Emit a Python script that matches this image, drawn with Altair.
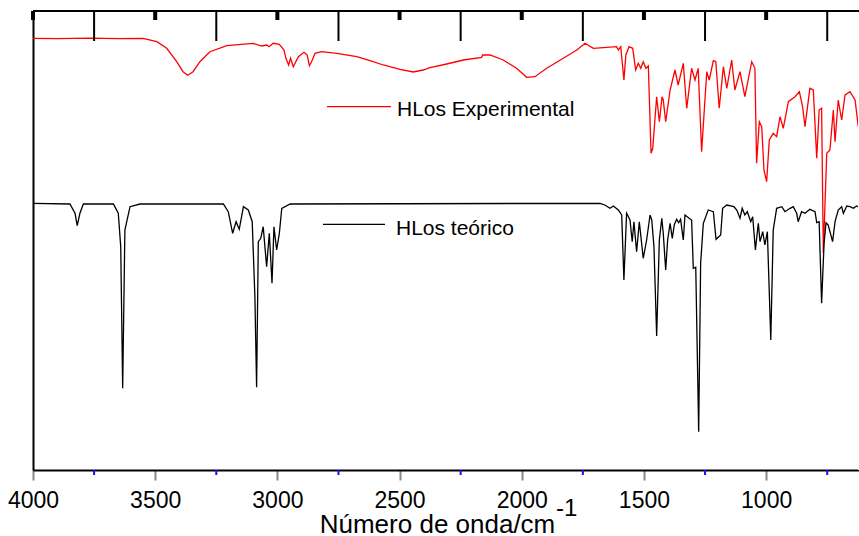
import altair as alt
import pandas as pd

# ---- data ----
series_names = ["HLos Experimental", "HLos teórico"]
series_colors = ["#ff0000", "#000000"]

exp_wn = [4000, 3900, 3767, 3650, 3550, 3493, 3453, 3412, 3386, 3367, 3345, 3317, 3276, 3207, 3100,
          3064, 3044, 3034, 3017, 2992, 2973, 2965, 2954, 2946, 2935, 2914, 2891, 2878, 2869, 2860,
          2846, 2819, 2757, 2675, 2621, 2567, 2498, 2444, 2403, 2376, 2307, 2239, 2164, 2160, 2130,
          2076, 2021, 1980, 1946, 1898, 1830, 1775, 1741, 1707, 1612, 1605, 1595, 1582, 1574, 1561,
          1546, 1534, 1523, 1513, 1503, 1492, 1482, 1471, 1464, 1448, 1437, 1426, 1421, 1411, 1393,
          1373, 1360, 1339, 1325, 1305, 1291, 1278, 1264, 1243, 1233, 1216, 1206, 1192, 1175, 1161,
          1141, 1128, 1107, 1087, 1059, 1046, 1039, 1028, 1018, 1009, 998, 987, 971, 957, 943,
          930, 909, 882, 864, 851, 841, 821, 807, 793, 783, 773, 766, 752, 739, 725,
          718, 705, 691, 677, 657, 636, 623]
exp_t = [431.7, 431.3, 431.8, 431.4, 431.7, 428.3, 421.7, 408.3, 398.3, 394.7, 398.3, 408.3, 418.3, 424.3, 426.7,
         424, 425, 423.3, 426.7, 425.7, 420, 411.7, 405, 411.7, 403.3, 413.3, 417.7, 415, 404.3, 408.3,
         416.7, 418.3, 416.7, 413.3, 409.3, 405, 400.7, 398, 400, 402.3, 406, 410, 412.7, 415, 415,
         410, 401.7, 392.7, 393.3, 401.7, 411.7, 420, 426.7, 421.7, 423.3, 420, 423.3, 390, 415, 423.3,
         421.7, 400, 406.7, 401.7, 408.3, 401.7, 404, 316.7, 321.7, 373.3, 348.3, 373.3, 370, 348.3, 380,
         400, 385, 406.7, 361.7, 401.7, 390, 401.7, 318.3, 398.3, 390, 409.3, 408.3, 361.7, 403.3, 381.7,
         410, 380, 398.3, 373.3, 408.3, 401.7, 306.7, 348.3, 343.3, 300, 288.3, 330, 336.7, 333.3, 353.3,
         341.7, 368.3, 373.3, 378.3, 363.3, 343.3, 381.7, 380, 311.7, 360, 361.7, 217, 316.7, 320, 360,
         328.3, 370, 350, 375, 378.3, 370, 343.3]

teo_wn = [4000, 3849, 3828, 3819, 3808, 3794, 3671, 3651, 3641, 3633, 3624, 3603, 3562, 3221, 3201,
          3183, 3169, 3156, 3139, 3119, 3103, 3092, 3085, 3078, 3068, 3058, 3044, 3033, 3022, 3014,
          3003, 2992, 2982, 2948, 1680, 1660, 1639, 1625, 1605, 1591, 1582, 1571, 1557, 1548, 1541,
          1530, 1519, 1503, 1489, 1475, 1468, 1459, 1448, 1437, 1427, 1421, 1411, 1403, 1393, 1384,
          1376, 1366, 1358, 1350, 1339, 1332, 1315, 1305, 1298, 1288, 1276, 1268, 1257, 1237, 1216,
          1205, 1186, 1178, 1161, 1132, 1120, 1107, 1098, 1087, 1077, 1063, 1055, 1044, 1032, 1025,
          1014, 1005, 995, 981, 971, 957, 936, 923, 902, 889, 875, 869, 855, 841, 821,
          800, 793, 783, 773, 763, 755, 746, 728, 718, 705, 691, 684, 670, 657, 643,
          630, 620]
teo_t = [266.7, 266, 256.7, 244.3, 256.7, 266, 266, 256.7, 223.3, 81.7, 240, 263.3, 266, 266, 258.3,
         236.7, 248.3, 240.7, 263.3, 260, 248.3, 173.3, 82.7, 228.3, 231.7, 243.3, 203.3, 236.7, 186.7, 243.3,
         220, 236.7, 261.7, 266, 266.7, 265, 261.7, 264, 260, 255, 190, 256.7, 250, 228.3, 248.3,
         218.3, 248.3, 211.7, 230, 255, 250, 223.3, 134, 230, 251.7, 236.7, 200, 230, 246.7, 231.7,
         245, 250.7, 247.3, 250.7, 230, 255, 251.7, 250, 201.7, 202.7, 38.3, 206.7, 246.7, 260, 258.3,
         230.7, 235, 261.7, 265, 263.3, 260, 251.7, 261.7, 255, 258.3, 248.3, 253.3, 220, 246.7, 228.3,
         238.3, 225, 238.3, 130, 240, 261.7, 263.3, 258.3, 261.7, 263.3, 256.7, 248.3, 258.3, 256.7, 260.7,
         258.3, 247.3, 248.3, 166.7, 226.7, 247.3, 245, 228.3, 248.3, 260, 263.3, 256.7, 264, 263.3, 261.7,
         264, 262.7]

major_ticks = [4000, 3500, 3000, 2500, 2000, 1500, 1000]
minor_ticks = [3750, 3250, 2750, 2250, 1750, 1250, 750]
x_title = "Número de onda/cm"
x_title_sup = "-1"

# ---- tables ----
exp_df = pd.DataFrame({"wn": exp_wn, "t": exp_t})
teo_df = pd.DataFrame({"wn": teo_wn, "t": teo_t})
major_df = pd.DataFrame({"wn": major_ticks})
minor_df = pd.DataFrame({"wn": minor_ticks})

FONT = "Liberation Sans"
H = 459
W = 826
xscale = alt.Scale(domain=[4000, 620], nice=False, zero=False)
yscale = alt.Scale(domain=[0, 459], nice=False, zero=False)

x_axis = alt.Axis(
    values=major_ticks, grid=False, tickSize=10, tickWidth=2,
    domainColor="black", domainWidth=2, format="d",
    labelFont=FONT, labelFontSize=23, labelColor="black", labelPadding=9, labelFlush=False,
    title=x_title, titleFont=FONT, titleFontSize=26, titleFontWeight="normal", titleColor="black",
    titleX=404, titleY=62, titleAlign="center", titleBaseline="alphabetic")
y_axis = alt.Axis(ticks=False, labels=False, grid=False, title=None,
                  domainColor="black", domainWidth=2)

exp_line = alt.Chart(exp_df).mark_line(color=series_colors[0], strokeWidth=1.3).encode(
    x=alt.X("wn:Q", scale=xscale, axis=x_axis),
    y=alt.Y("t:Q", scale=yscale, axis=y_axis),
)
teo_line = alt.Chart(teo_df).mark_line(color=series_colors[1], strokeWidth=1.3).encode(
    x=alt.X("wn:Q", scale=xscale, axis=x_axis),
    y=alt.Y("t:Q", scale=yscale, axis=y_axis),
)

top_edge = alt.Chart(major_df).mark_rule(color="black", strokeWidth=2).encode(
    x=alt.value(0), x2=alt.value(W), y=alt.value(0))
right_cover = alt.Chart(major_df).mark_rule(color="white", strokeWidth=2).encode(
    x=alt.value(W), y=alt.value(0), y2=alt.value(H))

bottom_minor = alt.Chart(minor_df).mark_rule(color="#1010ff", strokeWidth=2).encode(
    x=alt.X("wn:Q", scale=xscale), y=alt.value(H), y2=alt.value(H + 5))
top_major = alt.Chart(major_df).mark_rule(color="black", strokeWidth=4).encode(
    x=alt.X("wn:Q", scale=xscale), y=alt.value(0), y2=alt.value(9))
top_minor = alt.Chart(minor_df).mark_rule(color="black", strokeWidth=2).encode(
    x=alt.X("wn:Q", scale=xscale), y=alt.value(0), y2=alt.value(30))

leg_exp_df = pd.DataFrame({"label": [series_names[0]]})
leg_teo_df = pd.DataFrame({"label": [series_names[1]]})

leg_exp_line = alt.Chart(leg_exp_df).mark_rule(color=series_colors[0], strokeWidth=1.2).encode(
    x=alt.value(294), x2=alt.value(358), y=alt.value(95.7))
leg_exp_text = alt.Chart(leg_exp_df).mark_text(
    align="left", baseline="alphabetic", font=FONT, fontSize=21, color="black").encode(
    x=alt.value(364), y=alt.value(105), text="label:N")
leg_teo_line = alt.Chart(leg_teo_df).mark_rule(color=series_colors[1], strokeWidth=1.2).encode(
    x=alt.value(290), x2=alt.value(352), y=alt.value(213.3))
leg_teo_text = alt.Chart(leg_teo_df).mark_text(
    align="left", baseline="alphabetic", font=FONT, fontSize=21, color="black").encode(
    x=alt.value(363), y=alt.value(224), text="label:N")

sup_text = alt.Chart(pd.DataFrame({"s": [x_title_sup]})).mark_text(
    align="left", baseline="alphabetic", font=FONT, fontSize=24, color="black").encode(
    x=alt.value(523), y=alt.value(505), text="s:N")

chart = alt.layer(
    exp_line, teo_line, right_cover, top_edge, bottom_minor, top_major, top_minor,
    leg_exp_line, leg_exp_text, leg_teo_line, leg_teo_text, sup_text,
).properties(
    width=W, height=H,
    autosize=alt.AutoSizeParams(type="none"),
    padding={"left": 33, "top": 11, "right": 0, "bottom": 66},
)

chart.save("out.html", embed_options={"renderer": "svg", "actions": False})
